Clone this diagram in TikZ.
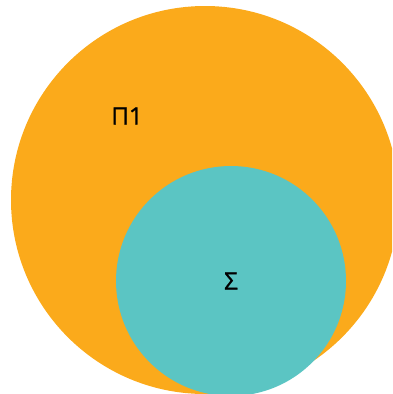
\documentclass[tikz,border=0pt]{standalone}
\usepackage{fontspec}
\setmainfont{Open Sans}
\newfontfamily\setlabelfont{Open Sans}[FakeBold=1]
\definecolor{setorange}{HTML}{FBAA1B}
\definecolor{setteal}{HTML}{5BC5C3}

\begin{document}
\begin{tikzpicture}[
          x=1pt, y=-1pt,
          every node/.style={align=center, font=\setlabelfont\fontsize{24}{28}\selectfont},
          setdisc/.style={circle, draw=none, inner sep=0pt}
        ]
          \useasboundingbox (0,0) rectangle (392,394);
          \clip (0,0) rectangle (392,394);

          % Outer set
          \node[setdisc, fill=setorange, minimum size=388pt] (outer) at (205,200) {};
          \node (outerlabel) at (127,116) {Π1};

          % Inner set
          \node[setdisc, fill=setteal, minimum size=230pt] (inner) at (231,281) {};
          \node (innerlabel) at (231,281) {Σ};
        \end{tikzpicture}
\end{document}
